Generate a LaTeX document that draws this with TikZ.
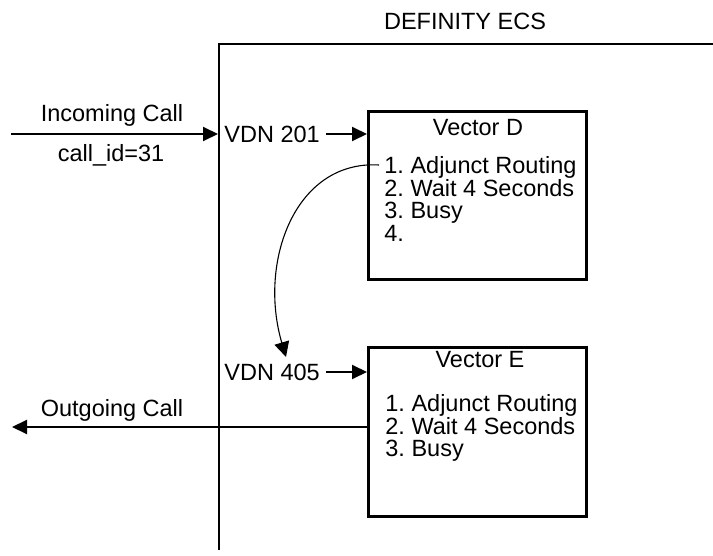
\documentclass[tikz,border=0pt]{standalone}
\usepackage{fontspec}
\setmainfont{Liberation Sans}
\usetikzlibrary{arrows.meta}
\begin{document}
\frenchspacing
\begin{tikzpicture}[x=0.5pt,y=-0.5pt,
  every node/.style={font=\fontsize{11.75}{14}\selectfont, inner sep=0pt},
  frame/.style={line width=1.35pt},
  vbox/.style={draw, line width=1.35pt, minimum width=109pt, anchor=north west},
  lbl/.style={anchor=west},
  items/.style={anchor=north west, align=left, font=\fontsize{11.75}{11.3}\selectfont},
  arr/.style={line width=1pt, -{Triangle[length=7.5pt,width=7pt]}},
  jump/.style={line width=0.55pt, -{Triangle[length=7.5pt,width=7.5pt]}}]
\useasboundingbox (0,0) rectangle (713,556);
% DEFINITY ECS frame
\node (ecs) at (465,21) {DEFINITY ECS};
\coordinate (fbl) at (219,550);
\coordinate (ftl) at (219,44);
\coordinate (ftr) at (713,44);
\draw[frame] (fbl) -- (ftl) -- (ftr);
% Vector boxes
\node[vbox, minimum height=84pt] (vd) at (367,110) {};
\node[vbox, minimum height=84.5pt] (ve) at (367,346) {};
\node (vdt) at (478,128) {Vector D};
\node (vet) at (480,360) {Vector E};
\node[items] (dl) at (384,156) {1. Adjunct Routing\\2. Wait 4 Seconds\\3. Busy\\4.};
\node[items] (el) at (385,394) {1. Adjunct Routing\\2. Wait 4 Seconds\\3. Busy};
% VDNs
\node[lbl] (v201) at (224,134) {VDN 201};
\node[lbl] (v405) at (224,372) {VDN 405};
% incoming
\coordinate (inS) at (11,134);
\coordinate (inE) at (218,134);
\draw[arr] (inS) -- (inE);
\node (inc) at (112,115) {Incoming Call};
\node (cid) at (111,155) {call\_id=31};
\draw[arr] ([xshift=3pt]v201.east) -- (vd.west |- v201);
\draw[arr] ([xshift=3pt]v405.east) -- (ve.west |- v405);
% outgoing
\coordinate (outS) at (367,427);
\coordinate (outE) at (12,427);
\draw[arr] (outS) -- (outE);
\node (out) at (112,410) {Outgoing Call};
% jump curve
\coordinate (jS) at (379,165);
\coordinate (jE) at (286,357);
\draw[jump] (jS) .. controls (295,160) and (258,262) .. (jE);
\end{tikzpicture}
\end{document}
